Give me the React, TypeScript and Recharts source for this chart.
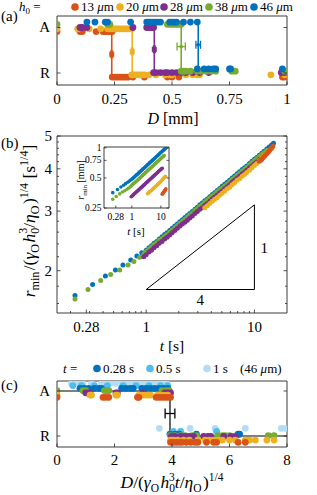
import React from 'react';
import { ScatterChart, Scatter, XAxis, YAxis, ReferenceLine, ErrorBar } from 'recharts';

// MATLAB default palette
const ORANGE = '#D95319';
const YELLOW = '#EDB120';
const PURPLE = '#7E2F8E';
const GREEN = '#77AC30';
const BLUE = '#0072BD';
const BLUE_MID = '#4DBEEE';
const BLUE_PALE = '#B3DDF6';
const INK = '#262626';
const SERIF = '"Liberation Serif", "Times New Roman", serif';

// ---- panel (a): outcome (A / R) vs distance D [mm] for each film thickness
const thickness = ['13', '20', '28', '38', '46'];
const a13A = [0, 0.1, 0.11, 0.17, 0.2, 0.21, 0.22, 0.23, 0.24];
const a13R = [0.24, 0.25, 0.26, 0.27, 0.28, 0.29, 0.3, 0.31, 0.33, 0.38, 0.48, 0.5, 0.53, 0.98, 0.99];
const a20A = [0, 0.09, 0.14, 0.19, 0.22, 0.23, 0.24, 0.25, 0.26, 0.27, 0.28, 0.29, 0.3, 0.31, 0.32, 0.325];
const a20R = [0.325, 0.33, 0.34, 0.35, 0.36, 0.37, 0.38, 0.4, 0.43, 0.47, 0.49, 0.5, 0.56, 0.59, 0.61, 0.62, 0.93, 0.99];
const a28A = [0.1, 0.11, 0.13, 0.33, 0.39, 0.4, 0.41, 0.42];
const a28R = [0.42, 0.43, 0.45, 0.47, 0.48, 0.5, 0.52, 0.54, 0.56, 0.59, 0.62, 0.66, 0.975, 0.99];
const a38A = [0, 0.22, 0.23, 0.48, 0.49, 0.5, 0.51, 0.52, 0.53, 0.54];
const a38R = [0.54, 0.55, 0.56, 0.58, 0.61, 0.63, 0.65, 0.67, 0.69, 0.76, 0.775, 0.99];
const a46A = [0.13, 0.165, 0.21, 0.22, 0.32, 0.39, 0.4, 0.41, 0.42, 0.43, 0.44, 0.45, 0.49, 0.5, 0.51, 0.52, 0.55, 0.58, 0.61];
const a46R = [0.61, 0.64, 0.66, 0.68, 0.69, 0.75, 0.755, 0.98];
// critical distance and its uncertainty per thickness
const aCrit = [0.238, 0.327, 0.423, 0.54, 0.614];
const aCritErr = [0.004, 0.004, 0.004, 0.018, 0.01];
// plotted levels (A = 1, R = 0, staggered per series)
const aLevelA = [0.91, 0.97, 1.0, 1.07, 1.12];
const aLevelR = [-0.09, -0.04, 0.01, 0.04, 0.09];
const aLevelMid = [0.41, 0.47, 0.52, 0.58, 0.62];

// ---- panel (b): normalised minimum radius vs t, inset: r_min [mm] vs t
const blueT = [0.22, 0.32, 0.42, 0.52, 0.61, 0.72, 0.82, 0.91, 1.0, 1.06, 1.12, 1.18, 1.25, 1.32, 1.4, 1.48, 1.56, 1.65, 1.74, 1.84, 1.94, 2.05, 2.16, 2.28, 2.4, 2.53, 2.67, 2.82, 2.97, 3.13, 3.3, 3.48, 3.67, 3.87, 4.08, 4.3, 4.53, 4.78, 5.04, 5.31, 5.6, 5.9, 6.22, 6.56, 6.92, 7.3, 7.7, 8.1, 8.5, 9.0, 9.5, 10.0, 10.5, 11.1, 11.7, 12.3, 13.0, 13.7, 14.4, 15.0];
const blueNorm = [1.69, 1.82, 1.93, 2.01, 2.08, 2.15, 2.21, 2.26, 2.3, 2.34, 2.37, 2.41, 2.44, 2.48, 2.52, 2.56, 2.59, 2.63, 2.67, 2.71, 2.75, 2.79, 2.83, 2.87, 2.91, 2.95, 2.99, 3.04, 3.08, 3.13, 3.17, 3.22, 3.26, 3.31, 3.36, 3.4, 3.45, 3.5, 3.55, 3.6, 3.65, 3.7, 3.76, 3.81, 3.87, 3.92, 3.98, 4.03, 4.08, 4.15, 4.21, 4.27, 4.32, 4.39, 4.45, 4.51, 4.58, 4.64, 4.7, 4.76];
const blueMm = [0.356, 0.383, 0.406, 0.423, 0.438, 0.453, 0.465, 0.476, 0.484, 0.493, 0.499, 0.507, 0.514, 0.522, 0.531, 0.539, 0.545, 0.554, 0.562, 0.571, 0.579, 0.587, 0.596, 0.604, 0.613, 0.621, 0.629, 0.64, 0.648, 0.659, 0.667, 0.678, 0.686, 0.697, 0.707, 0.716, 0.726, 0.737, 0.747, 0.758, 0.768, 0.779, 0.792, 0.802, 0.815, 0.825, 0.838, 0.848, 0.859, 0.874, 0.886, 0.899, 0.909, 0.924, 0.937, 0.949, 0.964, 0.977, 0.989, 1.0];

const greenT = [0.22, 0.29, 0.38, 0.47, 0.57, 0.68, 0.77, 0.87, 0.95, 1.0, 1.06, 1.12, 1.18, 1.25, 1.32, 1.4, 1.48, 1.56, 1.65, 1.74, 1.84, 1.94, 2.05, 2.16, 2.28, 2.4, 2.53, 2.67, 2.82, 2.97, 3.13, 3.3, 3.48, 3.67, 3.87, 4.08, 4.3, 4.53, 4.78, 5.04, 5.31, 5.6, 5.9, 6.22, 6.56, 6.92, 7.3, 7.7, 8.1, 8.5, 9.0, 9.5, 10.0, 10.5, 11.1, 11.7, 12.3, 13.0];
const greenNorm = [1.65, 1.76, 1.87, 1.95, 2.01, 2.08, 2.13, 2.19, 2.24, 2.28, 2.32, 2.35, 2.39, 2.42, 2.46, 2.49, 2.53, 2.56, 2.6, 2.64, 2.68, 2.72, 2.76, 2.8, 2.84, 2.88, 2.92, 2.96, 3.01, 3.05, 3.1, 3.14, 3.19, 3.23, 3.28, 3.33, 3.37, 3.42, 3.47, 3.51, 3.56, 3.61, 3.66, 3.72, 3.77, 3.83, 3.88, 3.94, 3.99, 4.04, 4.11, 4.17, 4.23, 4.28, 4.35, 4.41, 4.46, 4.53];
const greenMm = [0.306, 0.326, 0.346, 0.361, 0.372, 0.385, 0.394, 0.406, 0.415, 0.422, 0.43, 0.435, 0.443, 0.448, 0.456, 0.461, 0.469, 0.474, 0.481, 0.489, 0.496, 0.504, 0.511, 0.519, 0.526, 0.533, 0.541, 0.548, 0.557, 0.565, 0.574, 0.581, 0.591, 0.598, 0.607, 0.617, 0.624, 0.633, 0.643, 0.65, 0.659, 0.669, 0.678, 0.689, 0.698, 0.709, 0.719, 0.73, 0.739, 0.748, 0.761, 0.772, 0.783, 0.793, 0.806, 0.817, 0.826, 0.839];

const purpleT = [0.95, 1.0, 1.06, 1.12, 1.18, 1.25, 1.32, 1.4, 1.48, 1.56, 1.65, 1.74, 1.84, 1.94, 2.05, 2.16, 2.28, 2.4, 2.53, 2.67, 2.82, 2.97, 3.13, 3.3, 3.48, 3.67, 3.87, 4.08, 4.3, 4.53, 4.78, 5.04, 5.31, 5.6, 5.9, 6.22, 6.56, 6.92, 7.3, 7.7, 8.1, 8.5, 9.0, 9.5, 10.0, 10.5, 11.1];
const purpleNorm = [2.2, 2.23, 2.27, 2.3, 2.34, 2.37, 2.41, 2.44, 2.48, 2.51, 2.55, 2.59, 2.63, 2.67, 2.71, 2.75, 2.78, 2.82, 2.86, 2.9, 2.95, 2.99, 3.04, 3.07, 3.12, 3.16, 3.21, 3.26, 3.3, 3.35, 3.4, 3.44, 3.49, 3.54, 3.59, 3.65, 3.7, 3.75, 3.8, 3.86, 3.91, 3.96, 4.03, 4.08, 4.14, 4.19, 4.26];
const purpleMm = [0.324, 0.328, 0.334, 0.338, 0.344, 0.349, 0.354, 0.359, 0.365, 0.369, 0.375, 0.381, 0.387, 0.393, 0.399, 0.404, 0.409, 0.415, 0.421, 0.426, 0.434, 0.44, 0.447, 0.451, 0.459, 0.465, 0.472, 0.479, 0.485, 0.493, 0.5, 0.506, 0.513, 0.521, 0.528, 0.537, 0.544, 0.551, 0.559, 0.568, 0.575, 0.582, 0.593, 0.6, 0.609, 0.616, 0.626];

const yellowT = [3.48, 3.67, 3.87, 4.08, 4.3, 4.53, 4.78, 5.04, 5.31, 5.6, 5.9, 6.22, 6.56, 6.92, 7.3, 7.7, 8.1, 8.5, 9.0, 9.5, 10.0, 10.5, 11.1, 11.7, 12.3, 13.0, 13.7, 14.4];
const yellowNorm = [3.07, 3.11, 3.16, 3.21, 3.25, 3.29, 3.34, 3.39, 3.44, 3.49, 3.53, 3.59, 3.64, 3.7, 3.74, 3.8, 3.85, 3.9, 3.96, 4.03, 4.09, 4.15, 4.23, 4.3, 4.37, 4.45, 4.53, 4.6];
const yellowMm = [0.347, 0.351, 0.357, 0.363, 0.367, 0.372, 0.377, 0.383, 0.389, 0.394, 0.399, 0.406, 0.411, 0.418, 0.423, 0.429, 0.435, 0.441, 0.447, 0.455, 0.462, 0.469, 0.478, 0.486, 0.494, 0.503, 0.512, 0.52];

const orangeT = [11.1, 11.4, 11.7, 12.0, 12.3, 12.6, 13.0, 13.4, 13.7, 14.0, 14.4, 14.8];
const orangeNorm = [4.21, 4.24, 4.27, 4.31, 4.35, 4.39, 4.43, 4.48, 4.52, 4.56, 4.61, 4.66];
const orangeMm = [0.343, 0.347, 0.351, 0.355, 0.358, 0.362, 0.366, 0.37, 0.374, 0.378, 0.383, 0.389];

// slope 1/4 triangle
const triT = [1, 10];
const triR = [1.76, 3.13];

// ---- panel (c): outcome vs rescaled distance
const cTimes = ['0.28', '0.5', '1'];
const c1sA = [0.5, 0.6, 0.75, 0.9, 1.2, 1.55, 1.7, 1.85, 2.05, 2.2, 2.35, 2.5, 2.65, 2.85, 3.0, 3.15, 3.3, 3.5, 3.65, 3.8];
const c1sR = [3.56, 4.63, 5.5, 6.55, 7.8, 7.95];
const c05sA = [0.55, 0.85, 1.3, 1.75, 2.3, 2.75, 3.2, 3.6, 3.85];
const c05sR = [4.05, 4.3, 5.55];
const c028sA = [0.8, 0.95, 1.1, 1.3, 1.45, 1.55, 2.25, 2.4, 2.55, 2.65, 2.95, 3.1, 3.25, 3.4, 3.55, 3.7, 3.85];
const c028sR = [3.93, 4.1, 4.25, 4.85, 6.3, 6.35];
const c38A = [0, 0.9, 1.0, 1.65, 1.75, 1.8, 3.65, 3.8, 3.9];
const c38R = [3.95, 4.1, 4.3, 4.45, 4.7, 4.85, 5.6, 5.75, 5.85, 6.0, 7.35, 7.55];
const c28A = [1.0, 1.1, 1.15, 2.05, 2.1, 3.0, 3.75, 3.85, 3.95];
const c28R = [3.98, 4.1, 4.3, 4.45, 4.6, 4.75, 5.1, 5.25, 5.35, 5.8, 6.05, 6.2];
const c20A = [0, 1.15, 1.2, 2.05, 2.1, 2.85, 2.95, 3.05, 3.15, 3.25, 3.5, 3.6, 3.7, 3.85];
const c20R = [3.95, 4.05, 4.2, 4.4, 4.6, 4.9, 5.15, 5.3, 5.45, 5.6, 5.75, 6.0, 6.2, 6.55, 6.7, 6.9, 7.3, 7.55];
const c13A = [0, 1.6, 1.7, 1.8, 2.8, 2.85, 3.45, 3.55, 3.65, 3.75, 3.85, 3.95];
const c13R = [3.95, 4.05, 4.15, 4.25, 4.35, 4.5, 4.65, 4.8, 4.9, 5.2, 5.45, 5.55, 6.3, 6.55];
// order: 1 s, 0.5 s, 0.28 s, 38, 28, 20, 13 um
const cLevelA = [1.17, 1.12, 1.06, 1.01, 0.96, 0.91, 0.86];
const cLevelR = [0.17, 0.1, 0.04, 0.01, -0.01, -0.09, -0.14];
const cStepX = [0, 3.93, 3.93, 8];
const cStepY = [1, 1, 0, 0];
const cCrit = 3.93;
const cCritErr = 0.17;

const at = (xs: number[], y: number) => xs.map((x) => ({ x, y }));
const zip = (xs: number[], ys: number[]) => xs.map((x, i) => ({ x, y: ys[i] }));

const dot = (fill: string, r: number) => (p: any) =>
  p.cx == null ? <g /> : <circle cx={p.cx} cy={p.cy} r={r} fill={fill} />;
const square = (fill: string, s: number) => (p: any) =>
  p.cx == null ? <g /> : <rect x={p.cx - s / 2} y={p.cy - s / 2} width={s} height={s} fill={fill} />;
const none = () => <g />;

type Side = 'bottom' | 'top' | 'left' | 'right';
interface TickCfg {
  side: Side;
  major: number[];
  labels?: string[];
  len?: number;
  minor?: number;
  size?: number;
  gap?: number;
}

const tickRenderer = (cfg: TickCfg) => (props: any) => {
  const { x, y, payload } = props;
  const v = payload.value;
  const idx = cfg.major.findIndex((m) => Math.abs(m - v) < 1e-9);
  const L = idx >= 0 ? cfg.len ?? 3.5 : cfg.minor ?? 2;
  const label = idx >= 0 && cfg.labels ? cfg.labels[idx] : null;
  const fs = cfg.size ?? 15;
  const gap = cfg.gap ?? 5;
  let line: React.ReactNode;
  let text: React.ReactNode = null;
  if (cfg.side === 'bottom') {
    line = <line x1={x} y1={y} x2={x} y2={y - L} />;
    if (label) text = <text x={x} y={y + gap} textAnchor="middle">{label}</text>;
  } else if (cfg.side === 'top') {
    line = <line x1={x} y1={y} x2={x} y2={y + L} />;
  } else if (cfg.side === 'left') {
    line = <line x1={x} y1={y} x2={x + L} y2={y} />;
    if (label) text = <text x={x - gap} y={y + fs * 0.33} textAnchor="end">{label}</text>;
  } else {
    line = <line x1={x} y1={y} x2={x - L} y2={y} />;
  }
  return (
    <g>
      <g stroke={INK} strokeWidth={0.8}>{line}</g>
      {text && <g fill="#000" fontSize={fs} fontFamily={SERIF}>{text}</g>}
    </g>
  );
};

const axisLine = { stroke: INK, strokeWidth: 0.9 };

interface FrameCfg {
  xDomain: [number, number];
  yDomain: [number, number];
  log?: boolean;
  xTicks: number[];
  xMajor: number[];
  xLabels: string[];
  yTicks: number[];
  yMajor: number[];
  yLabels: string[];
  size?: number;
  xGap: number;
  yGap: number;
  len?: number;
}

// box axes: every axis is 1px thick, the chart margins are reduced by 1 to match
const frame = (o: FrameCfg) => {
  const common = { type: 'number' as const, allowDataOverflow: true, interval: 0 as const, tickSize: 0, tickMargin: 0, tickLine: false, axisLine };
  const scale = o.log ? 'log' : 'linear';
  return [
    <XAxis key="xb" xAxisId={0} dataKey="x" scale={scale} domain={o.xDomain} ticks={o.xTicks} height={1} {...common}
      tick={tickRenderer({ side: 'bottom', major: o.xMajor, labels: o.xLabels, size: o.size, gap: o.xGap, len: o.len })} />,
    <XAxis key="xt" xAxisId="top" orientation="top" scale={scale} domain={o.xDomain} ticks={o.xTicks} height={1} {...common}
      tick={tickRenderer({ side: 'top', major: o.xMajor, len: o.len })} />,
    <YAxis key="yl" yAxisId={0} dataKey="y" scale={scale} domain={o.yDomain} ticks={o.yTicks} width={1} {...common}
      tick={tickRenderer({ side: 'left', major: o.yMajor, labels: o.yLabels, size: o.size, gap: o.yGap, len: o.len })} />,
    <YAxis key="yr" yAxisId="right" orientation="right" scale={scale} domain={o.yDomain} ticks={o.yTicks} width={1} {...common}
      tick={tickRenderer({ side: 'right', major: o.yMajor, len: o.len })} />,
  ];
};

const PanelA = () => {
  const groups = [
    { A: a13A, R: a13R, c: ORANGE },
    { A: a20A, R: a20R, c: YELLOW },
    { A: a28A, R: a28R, c: PURPLE },
    { A: a38A, R: a38R, c: GREEN },
    { A: a46A, R: a46R, c: BLUE },
  ];
  return (
    <ScatterChart width={317} height={110} margin={{ top: 15, right: 29, bottom: 24, left: 56 }}>
      {frame({
        xDomain: [0, 1], yDomain: [-0.264, 1.253],
        xTicks: [0, 0.25, 0.5, 0.75, 1], xMajor: [0, 0.25, 0.5, 0.75, 1], xLabels: ['0', '0.25', '0.5', '0.75', '1'],
        yTicks: [0, 1], yMajor: [0, 1], yLabels: ['R', 'A'], xGap: 19, yGap: 7,
      })}
      {groups.map((g, i) => (
        <Scatter key={'a' + i} data={at(g.A, aLevelA[i])} shape={dot(g.c, 3.4)} isAnimationActive={false} />
      ))}
      {groups.map((g, i) => (
        <Scatter key={'r' + i} data={at(g.R, aLevelR[i])} shape={dot(g.c, 3.4)} isAnimationActive={false} />
      ))}
      {groups.map((g, i) => (
        <ReferenceLine key={'v' + i} segment={[{ x: aCrit[i], y: aLevelA[i] }, { x: aCrit[i], y: aLevelR[i] }]}
          stroke={g.c} strokeWidth={1.6} />
      ))}
      {groups.map((g, i) => (
        <Scatter key={'m' + i} data={[{ x: aCrit[i], y: aLevelMid[i], e: aCritErr[i] }]}
          shape={square(g.c, i < 3 ? 5 : 3)} isAnimationActive={false}>
          <ErrorBar dataKey="e" direction="x" width={4} stroke={g.c} strokeWidth={1.3} />
        </Scatter>
      ))}
    </ScatterChart>
  );
};

const bMinorX = [0.2, 0.3, 0.4, 0.5, 0.6, 0.7, 0.8, 0.9, 2, 3, 4, 5, 6, 7, 8, 9];
const bMinorY = [1.6, 1.8, 2.2, 2.4, 2.6, 2.8, 3.2, 3.4, 3.6, 3.8, 4.2, 4.4, 4.6, 4.8];

const PanelB = () => (
  <ScatterChart width={317} height={230} margin={{ top: 15, right: 29, bottom: 36, left: 56 }}>
    {frame({
      log: true, xDomain: [0.15, 20], yDomain: [1.5, 5],
      xTicks: [...bMinorX, 0.28, 1, 10].sort((a, b) => a - b), xMajor: [0.28, 1, 10], xLabels: ['0.28', '1', '10'],
      yTicks: [...bMinorY, 2, 3, 4, 5].sort((a, b) => a - b), yMajor: [2, 3, 4, 5], yLabels: ['2', '3', '4', '5'],
      xGap: 19, yGap: 5,
    })}
    <Scatter data={zip(blueT, blueNorm)} shape={dot(BLUE, 2.5)} isAnimationActive={false} />
    <Scatter data={zip(greenT, greenNorm)} shape={dot(GREEN, 2.5)} isAnimationActive={false} />
    <Scatter data={zip(purpleT, purpleNorm)} shape={dot(PURPLE, 2.5)} isAnimationActive={false} />
    <Scatter data={zip(yellowT, yellowNorm)} shape={dot(YELLOW, 2.5)} isAnimationActive={false} />
    <Scatter data={zip(orangeT, orangeNorm)} shape={dot(ORANGE, 2.5)} isAnimationActive={false} />
    <ReferenceLine segment={[{ x: triT[0], y: triR[0] }, { x: triT[1], y: triR[0] }]} stroke="#000" strokeWidth={1}
      label={{ value: '4', position: 'bottom', offset: 5, fill: '#000', fontSize: 15, fontFamily: SERIF }} />
    <ReferenceLine segment={[{ x: triT[1], y: triR[0] }, { x: triT[1], y: triR[1] }]} stroke="#000" strokeWidth={1}
      label={{ value: '1', position: 'right', offset: 6, fill: '#000', fontSize: 15, fontFamily: SERIF }} />
    <ReferenceLine segment={[{ x: triT[0], y: triR[0] }, { x: triT[1], y: triR[1] }]} stroke="#000" strokeWidth={1} />
  </ScatterChart>
);

const Inset = () => (
  <ScatterChart width={100} height={90} margin={{ top: 6, right: 10, bottom: 21, left: 23 }}>
    {frame({
      log: true, xDomain: [0.11, 19], yDomain: [0.25, 1.02],
      xTicks: [0.28, 1, 10], xMajor: [0.28, 1, 10], xLabels: ['0.28', '1', '10'],
      yTicks: [0.25, 0.5, 0.75, 1], yMajor: [0.25, 0.5, 0.75, 1], yLabels: ['0.25', '0.5', '0.75', '1'],
      size: 9.5, xGap: 12, yGap: 2.5, len: 2.5,
    })}
    <Scatter data={zip(blueT, blueMm)} shape={dot(BLUE, 1.8)} isAnimationActive={false} />
    <Scatter data={zip(greenT, greenMm)} shape={dot(GREEN, 1.8)} isAnimationActive={false} />
    <Scatter data={zip(purpleT, purpleMm)} shape={dot(PURPLE, 1.8)} isAnimationActive={false} />
    <Scatter data={zip(yellowT, yellowMm)} shape={dot(YELLOW, 1.8)} isAnimationActive={false} />
    <Scatter data={zip(orangeT, orangeMm)} shape={dot(ORANGE, 1.8)} isAnimationActive={false} />
  </ScatterChart>
);

const PanelC = () => {
  const groups = [
    { A: c1sA, R: c1sR, c: BLUE_PALE },
    { A: c05sA, R: c05sR, c: BLUE_MID },
    { A: c028sA, R: c028sR, c: BLUE },
    { A: c38A, R: c38R, c: GREEN },
    { A: c28A, R: c28R, c: PURPLE },
    { A: c20A, R: c20R, c: YELLOW },
    { A: c13A, R: c13R, c: ORANGE },
  ];
  return (
    <ScatterChart width={317} height={115} margin={{ top: 20, right: 29, bottom: 27, left: 56 }}>
      {frame({
        xDomain: [0, 8], yDomain: [-0.244, 1.222],
        xTicks: [0, 2, 4, 6, 8], xMajor: [0, 2, 4, 6, 8], xLabels: ['0', '2', '4', '6', '8'],
        yTicks: [0, 1], yMajor: [0, 1], yLabels: ['R', 'A'], xGap: 18, yGap: 7,
      })}
      <Scatter data={zip(cStepX, cStepY)} shape={none} line={{ stroke: '#000', strokeWidth: 1.2 }} isAnimationActive={false} />
      {groups.map((g, i) => (
        <Scatter key={'a' + i} data={at(g.A, cLevelA[i])} shape={dot(g.c, 3.4)} isAnimationActive={false} />
      ))}
      {groups.map((g, i) => (
        <Scatter key={'r' + i} data={at(g.R, cLevelR[i])} shape={dot(g.c, 3.4)} isAnimationActive={false} />
      ))}
      <Scatter data={[{ x: cCrit, y: 0.5, e: cCritErr }]} shape={none} isAnimationActive={false}>
        <ErrorBar dataKey="e" direction="x" width={5} stroke="#000" strokeWidth={1.3} />
      </Scatter>
    </ScatterChart>
  );
};

const sub = (s: string, fs = 10, drop = 4) => [
  <tspan key="s" dy={drop} fontSize={fs}>{s}</tspan>,
  <tspan key="r" dy={-drop}>{'\u200A'}</tspan>,
];

const Overlay = () => {
  const legendA = [ORANGE, YELLOW, PURPLE, GREEN, BLUE];
  const legendAx = [75, 120, 164, 209, 254];
  const legendC = [BLUE, BLUE_MID, BLUE_PALE];
  const legendCx = [97, 150, 207];
  return (
    <svg width={317} height={495} style={{ position: 'absolute', left: 0, top: 0, pointerEvents: 'none' }}
      fontFamily={SERIF} fill="#000">
      {/* panel letters */}
      <text x={1} y={21} fontSize={15}>(a)</text>
      <text x={1} y={148} fontSize={15}>(b)</text>
      <text x={1} y={390} fontSize={15}>(c)</text>

      {/* legend (a) */}
      <text x={19} y={11} fontSize={13}>
        <tspan fontStyle="italic">h</tspan>
        <tspan dy={3} fontSize={9}>0</tspan>
        <tspan dy={-3}> =</tspan>
      </text>
      {legendA.map((c, i) => (
        <g key={i}>
          <circle cx={legendAx[i]} cy={7} r={3.8} fill={c} />
          <text x={legendAx[i] + 6} y={11} fontSize={13}>
            {thickness[i]} <tspan fontStyle="italic">μ</tspan>m
          </text>
        </g>
      ))}

      {/* axis label (a) */}
      <text x={173} y={124} fontSize={16} textAnchor="middle">
        <tspan fontStyle="italic">D</tspan> [mm]
      </text>

      {/* axis labels (b) */}
      <text x={172} y={351} fontSize={15.5} textAnchor="middle">
        <tspan fontStyle="italic">t</tspan> [s]
      </text>
      <text x={35} y={221} fontSize={17.5} textAnchor="middle" transform="rotate(-90 35 221)">
        <tspan fontStyle="italic">r</tspan>
        {sub('min', 12, 4)}
        <tspan>/(</tspan>
        <tspan fontStyle="italic">γ</tspan>
        {sub('O', 12, 4)}
        <tspan fontStyle="italic">h</tspan>
        <tspan dy={4} fontSize={12}>0</tspan>
        <tspan dx={-6} dy={-12} fontSize={12}>3</tspan>
        <tspan dy={8}>/</tspan>
        <tspan fontStyle="italic">η</tspan>
        {sub('O', 12, 4)}
        <tspan>)</tspan>
        <tspan dy={-7} fontSize={12}>1/4</tspan>
        <tspan dy={7}> [s</tspan>
        <tspan dy={-7} fontSize={12}>1/4</tspan>
        <tspan dy={7}>]</tspan>
      </text>

      {/* inset labels */}
      <text x={136} y={235} fontSize={11} textAnchor="middle">
        <tspan fontStyle="italic">t</tspan> [s]
      </text>
      <text x={84} y={180} fontSize={10} textAnchor="middle" transform="rotate(-90 84 180)">
        <tspan fontStyle="italic">r</tspan>
        <tspan dy={3} fontSize={7}>min</tspan>
        <tspan dy={-3}> [mm]</tspan>
      </text>

      {/* legend (c) */}
      <text x={63} y={373} fontSize={13}>
        <tspan fontStyle="italic">t</tspan> =
      </text>
      {legendC.map((c, i) => (
        <g key={i}>
          <circle cx={legendCx[i]} cy={368.5} r={3.8} fill={c} />
          <text x={legendCx[i] + 6} y={373} fontSize={13}>{cTimes[i]} s</text>
        </g>
      ))}
      <text x={240} y={373} fontSize={13}>
        (46 <tspan fontStyle="italic">μ</tspan>m)
      </text>

      {/* axis label (c) */}
      <text x={172} y={488} fontSize={17.5} textAnchor="middle">
        <tspan fontStyle="italic">D</tspan>
        <tspan>/(</tspan>
        <tspan fontStyle="italic">γ</tspan>
        {sub('O', 11.5, 4)}
        <tspan fontStyle="italic">h</tspan>
        <tspan dy={4} fontSize={11.5}>0</tspan>
        <tspan dx={-6} dy={-11} fontSize={11.5}>3</tspan>
        <tspan dy={7} fontStyle="italic">t</tspan>
        <tspan>/</tspan>
        <tspan fontStyle="italic">η</tspan>
        {sub('O', 11.5, 4)}
        <tspan>)</tspan>
        <tspan dy={-7} fontSize={11.5}>1/4</tspan>
      </text>
    </svg>
  );
};

export default function App() {
  return (
    <div style={{ position: 'absolute', left: 0, top: 0, width: 317, height: 495, background: '#fff', overflow: 'hidden' }}>
      <div style={{ position: 'absolute', left: 0, top: 0 }}><PanelA /></div>
      <div style={{ position: 'absolute', left: 0, top: 120 }}><PanelB /></div>
      <div style={{ position: 'absolute', left: 80, top: 140 }}><Inset /></div>
      <div style={{ position: 'absolute', left: 0, top: 360 }}><PanelC /></div>
      <Overlay />
    </div>
  );
}
